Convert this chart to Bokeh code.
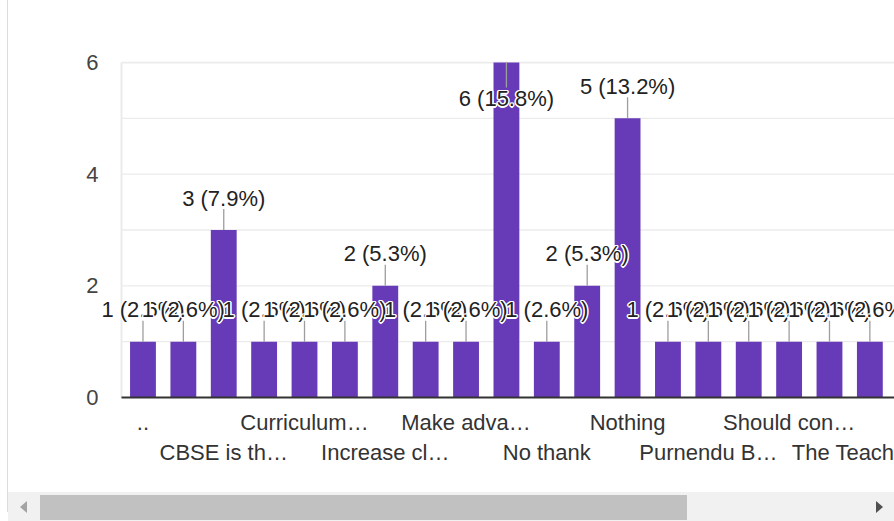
from bokeh.plotting import figure
from bokeh.models import ColumnDataSource, FixedTicker, LinearAxis, Range1d, LabelSet, Div
from bokeh.layouts import column, row
from bokeh.embed import file_html
from bokeh.resources import INLINE
from bokeh.core.properties import value

# ---- data ----
counts = [1, 1, 3, 1, 1, 1, 2, 1, 1, 6, 1, 2, 5, 1, 1, 1, 1, 1, 1]
total_responses = 38
row1_positions = [1, 5, 9, 13, 17]
row1_labels = ["..", "Curriculum…", "Make adva…", "Nothing", "Should con…"]
row2_positions = [3, 7, 11, 15, 19]
row2_labels = ["CBSE is th…", "Increase cl…", "No thank", "Purnendu B…", "The Teach"]
y_ticks = [0, 2, 4, 6]
minor_grid_values = [1, 2, 3, 4, 5]
top_grid_value = [6]

FONT = "Liberation Sans"
PURPLE = "#673ab7"
GRID = "#ebebeb"
Y_MAX = 6
PPU = 335 / Y_MAX          # pixels per y unit
SLOT = 40.39               # pixels per category slot

xs = list(range(1, len(counts) + 1))
above = [c + 0.8 <= Y_MAX for c in counts]
label_y = [c + 32 / PPU if a else c - 36 / PPU for c, a in zip(counts, above)]
lead_y = [c + 21 / PPU if a else c - 25 / PPU for c, a in zip(counts, above)]
labels = [f"{c} ({c / total_responses * 100:.1f}%)" for c in counts]

src = ColumnDataSource(dict(x=xs, count=counts, label_y=label_y, lead_y=lead_y, label=labels))

X0, X1 = 0.468, 19.61            # visible chart area (left edge at the light border)
XL = X0 - 22 / SLOT              # frame extends a bit left so first label is not clipped
W_LEFT, W, H_MAIN, H_SB = 8, 886, 492, 29

p = figure(width=W, height=H_MAIN, x_range=Range1d(XL, X1),
           y_range=Range1d(-2 / PPU, Y_MAX + 1 / PPU),
           output_backend="svg", toolbar_location=None,
           min_border_left=91, min_border_right=0, min_border_top=61, min_border_bottom=93)
p.outline_line_color = None
p.background_fill_color = "white"
p.border_fill_color = "white"
p.xgrid.visible = False
p.ygrid.visible = False

# y axis
ya = p.yaxis[0]
ya.ticker = FixedTicker(ticks=y_ticks)
ya.axis_line_color = None
ya.major_tick_line_color = None
ya.minor_tick_line_color = None
ya.major_tick_out = 0
ya.major_label_standoff = 1
ya.major_label_text_font = FONT
ya.major_label_text_font_size = "22px"
ya.major_label_text_color = "#444444"

# x axis (two staggered rows)
xa = p.xaxis[0]
xa.ticker = FixedTicker(ticks=row1_positions)
xa.major_label_overrides = dict(zip(row1_positions, row1_labels))
xa.axis_line_color = None
xa.major_tick_line_color = None
xa.minor_tick_line_color = None
xa.major_tick_out = 0
xa.major_label_standoff = 10
xa.major_label_text_font = FONT
xa.major_label_text_font_size = "22px"
xa.major_label_text_color = "#333333"

xa2 = LinearAxis(ticker=FixedTicker(ticks=row2_positions),
                 major_label_overrides=dict(zip(row2_positions, row2_labels)))
xa2.axis_line_color = None
xa2.major_tick_line_color = None
xa2.minor_tick_line_color = None
xa2.major_tick_out = 0
xa2.major_label_standoff = 2
xa2.major_label_text_font = FONT
xa2.major_label_text_font_size = "22px"
xa2.major_label_text_color = "#333333"
p.add_layout(xa2, "below")

# gridlines and chart-area border, limited to the chart area
n = len(minor_grid_values)
p.segment(x0=[X0] * n, y0=minor_grid_values, x1=[X1] * n, y1=minor_grid_values,
          line_color=GRID, line_width=1.3)
p.segment(x0=[X0], y0=top_grid_value, x1=[X1], y1=top_grid_value, line_color=GRID, line_width=2)
p.segment(x0=[X0], y0=[0], x1=[X0], y1=top_grid_value, line_color=GRID, line_width=2)

p.vbar(x="x", top="count", width=0.64, source=src, fill_color=PURPLE, line_color=None)
p.segment(x0="x", y0="count", x1="x", y1="lead_y", source=src, line_color="#9e9e9e", line_width=1.3)
# baseline
p.segment(x0=[X0], y0=[0], x1=[X1], y1=[0], line_color="#333333", line_width=2)

# value labels, drawn one after another, each with a white halo (later ones cover earlier ones)
halo_offsets = [(-1.5, 0), (1.5, 0), (0, -1.5), (0, 1.5), (-1, -1), (1, 1), (-1, 1), (1, -1), (0, 0)]
common = dict(text_font=value(FONT), text_font_size="22px", text_align="center",
              text_baseline="middle")
for i in range(len(counts)):
    k = len(halo_offsets)
    hs = ColumnDataSource(dict(
        x=[xs[i]] * k, y=[label_y[i]] * k, t=[labels[i]] * k,
        dx=[o[0] for o in halo_offsets], dy=[o[1] for o in halo_offsets]))
    p.add_layout(LabelSet(x="x", y="y", text="t", x_offset="dx", y_offset="dy", source=hs,
                          text_color="white", **common))
    ts = ColumnDataSource(dict(x=[xs[i]], y=[label_y[i]], t=[labels[i]]))
    p.add_layout(LabelSet(x="x", y="y", text="t", source=ts, text_color="#222222", **common))

# card border on the left and the horizontal scrollbar seen in the screenshot
left_border = Div(width=W_LEFT, height=H_MAIN + H_SB, margin=(0, 0, 0, 0), text=(
    '<div style="margin-left:7px;width:1px;height:512px;background:#dadce0"></div>'))
sb_html = (
    f'<div style="position:relative;width:{W}px;height:{H_SB}px;background:#f1f1f1;overflow:hidden">'
    '<div style="position:absolute;left:32px;top:3px;width:647px;height:25px;background:#c1c1c1"></div>'
    '<div style="position:absolute;left:12px;top:9px;width:0;height:0;'
    'border-top:6px solid transparent;border-bottom:6px solid transparent;border-right:7px solid #a3a3a3"></div>'
    '<div style="position:absolute;left:868px;top:9px;width:0;height:0;'
    'border-top:6px solid transparent;border-bottom:6px solid transparent;border-left:7px solid #505050"></div>'
    '</div>')
scrollbar = Div(width=W, height=H_SB, margin=(0, 0, 0, 0), text=sb_html)

layout = row(left_border, column(p, scrollbar, spacing=0), spacing=0)
open("out.html", "w").write(file_html(layout, INLINE))
